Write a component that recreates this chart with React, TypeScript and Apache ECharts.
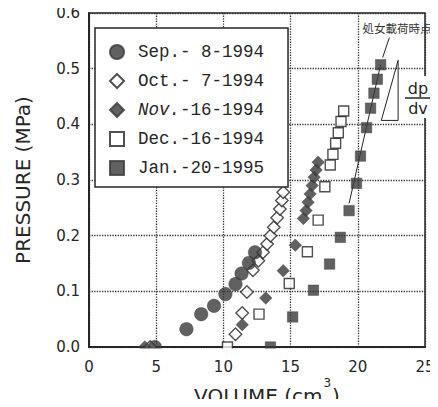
import React, { useEffect, useRef } from "react";
import * as echarts from "echarts";

// ---- data (volume cm^3, pressure MPa) ----
const seriesNames = ["Sep.- 8-1994", "Oct.- 7-1994", "Nov.-16-1994", "Dec.-16-1994", "Jan.-20-1995"];

const sep = [[4.9, 0], [7.25, 0.032], [8.35, 0.059], [9.3, 0.074], [10.15, 0.095], [10.9, 0.113], [11.35, 0.132], [11.9, 0.151], [12.35, 0.17]];
const oct = [[4.55, 0], [10.9, 0.023], [11.4, 0.061], [11.75, 0.099], [12.2, 0.138], [12.6, 0.155], [12.95, 0.17], [13.25, 0.185], [13.5, 0.2], [13.75, 0.215], [14.0, 0.232], [14.2, 0.248], [14.35, 0.263], [14.45, 0.278]];
const nov = [[4.15, 0], [11.4, 0.04], [13.15, 0.088], [14.45, 0.137], [15.35, 0.183], [15.95, 0.231], [16.15, 0.245], [16.3, 0.26], [16.45, 0.275], [16.6, 0.29], [16.75, 0.305], [16.9, 0.318], [17.05, 0.332]];
const dec = [[10.3, 0], [12.65, 0.059], [14.9, 0.114], [16.25, 0.171], [17.05, 0.228], [17.55, 0.288], [17.95, 0.327], [18.15, 0.346], [18.35, 0.366], [18.55, 0.385], [18.75, 0.405], [18.95, 0.424]];
const jan = [[13.5, 0], [15.15, 0.054], [16.7, 0.102], [17.9, 0.149], [18.7, 0.197], [19.35, 0.245], [19.9, 0.294], [20.2, 0.343], [20.65, 0.394], [20.95, 0.429], [21.2, 0.456], [21.45, 0.481], [21.7, 0.507]];

const tangentLine = [[19.35, 0.258], [21.7, 0.507]];
const leaderLine = [[21.85, 0.52], [22.35, 0.556]];
const slopeTriangle = [[21.75, 0.407], [23.0, 0.407], [23.0, 0.515], [21.75, 0.407]];

const xTicks = { min: 0, max: 25, interval: 5 };
const yTicks = { min: 0, max: 0.6, interval: 0.1 };

const INK = "#262626";
const FILL = "#3a3a3a";
const MONO = "Liberation Mono";

export default function App() {
  const ref = useRef<HTMLDivElement>(null);
  useEffect(() => {
    if (!ref.current) return;
    const chart = echarts.init(ref.current, null, { renderer: "svg" });
    const filled = { color: FILL, borderColor: FILL, borderWidth: 0.5 };
    const open = { color: "#fff", borderColor: INK, borderWidth: 1.4 };
    const helper = (data: number[][], z: number) => ({
      type: "line",
      data,
      symbol: "none",
      silent: true,
      z,
      lineStyle: { color: INK, width: 1 },
      emphasis: { disabled: true },
    });
    const txt = { color: INK, fontFamily: MONO, fontSize: 17.5, lineHeight: 17 };
    const option: any = {
      animation: false,
      backgroundColor: "#fff",
      grid: {
        left: 89, right: 13, top: 13, bottom: 60,
        show: true, borderColor: INK, borderWidth: 1.5,
        outerBoundsMode: "none",
      },
      xAxis: {
        type: "value", ...xTicks,
        axisLine: { show: true, lineStyle: { color: INK, width: 2 } },
        axisTick: { show: false },
        axisLabel: { fontFamily: "DejaVu Sans", fontSize: 15, color: INK, margin: 12 },
        splitLine: { show: true, lineStyle: { type: "dotted", color: "#333", width: 1.3 } },
        name: "{a|VOLUME (cm}{s|3}{a|)}",
        nameLocation: "middle",
        nameMoveOverlap: false,
        nameGap: 39,
        nameTextStyle: {
          padding: [0, 0, 0, 20],
          rich: {
            a: { fontFamily: "DejaVu Sans", fontSize: 20, color: INK, lineHeight: 20 },
            s: { fontFamily: "DejaVu Sans", fontSize: 12, color: INK, lineHeight: 20, padding: [0, 1, 26, 1] },
          },
        },
      },
      yAxis: {
        type: "value", ...yTicks,
        axisLine: { show: true, lineStyle: { color: INK, width: 2 } },
        axisTick: { show: false },
        axisLabel: { fontFamily: "DejaVu Sans", fontSize: 15, color: INK, margin: 9, formatter: (v: number) => v.toFixed(1) },
        splitLine: { show: true, lineStyle: { type: "dotted", color: "#333", width: 1.3 } },
        name: "PRESSURE (MPa)",
        nameLocation: "middle",
        nameMoveOverlap: false,
        nameGap: 56,
        nameTextStyle: { fontFamily: "DejaVu Sans", fontSize: 20, color: INK },
      },
      legend: {
        data: seriesNames,
        orient: "vertical",
        left: 95, top: 28,
        backgroundColor: "#fff",
        borderColor: INK, borderWidth: 1.5,
        padding: [15, 24, 10, 14],
        itemGap: 11,
        itemWidth: 14, itemHeight: 14,
        formatter: (name: string) =>
          name.startsWith("Nov") ? `{i|Nov.}{m|${name.slice(4)}}` : `{n|${name}}`,
        textStyle: {
          ...txt,
          rich: {
            n: { ...txt, padding: [0, 0, 0, 9] },
            m: { ...txt },
            i: { ...txt, fontStyle: "italic", padding: [0, 0, 0, 9] },
          },
        },
      },
      series: [
        helper(tangentLine, 1),
        helper(leaderLine, 1),
        helper(slopeTriangle, 1),
        { name: seriesNames[0], type: "scatter", data: sep, symbol: "circle", symbolSize: 13.5, itemStyle: filled, z: 3 },
        { name: seriesNames[1], type: "scatter", data: oct, symbol: "diamond", symbolSize: 12.5, itemStyle: open, z: 2 },
        { name: seriesNames[2], type: "scatter", data: nov, symbol: "diamond", symbolSize: 12.5, itemStyle: filled, z: 3 },
        { name: seriesNames[3], type: "scatter", data: dec, symbol: "rect", symbolSize: 10, itemStyle: open, z: 3 },
        { name: seriesNames[4], type: "scatter", data: jan, symbol: "rect", symbolSize: 10.5, itemStyle: filled, z: 4 },
      ],
      graphic: [
        { type: "rect", z: 50, silent: true, shape: { x: 80, y: 348.6, width: 352, height: 8 }, style: { fill: "#fff" } },
        { type: "rect", z: 60, silent: true, shape: { x: 404, y: 76, width: 30, height: 42 }, style: { fill: "#fff" } },
        { type: "text", z: 61, x: 418, y: 88, style: { text: "dp", fill: INK, font: "16px 'DejaVu Sans'", align: "center", verticalAlign: "middle" } },
        { type: "line", z: 61, shape: { x1: 405, y1: 98, x2: 431, y2: 98 }, style: { stroke: INK, lineWidth: 1.5 } },
        { type: "text", z: 61, x: 418, y: 108, style: { text: "dv", fill: INK, font: "16px 'DejaVu Sans'", align: "center", verticalAlign: "middle" } },
        { type: "text", z: 61, x: 397, y: 28, style: { text: "処女載荷時点", fill: "#333", font: "11.5px 'Noto Sans CJK JP'", align: "center", verticalAlign: "middle" } },
      ],
    };
    chart.setOption(option);
    return () => chart.dispose();
  }, []);
  return <div ref={ref} style={{ width: 438, height: 407, margin: -8 }} />;
}
